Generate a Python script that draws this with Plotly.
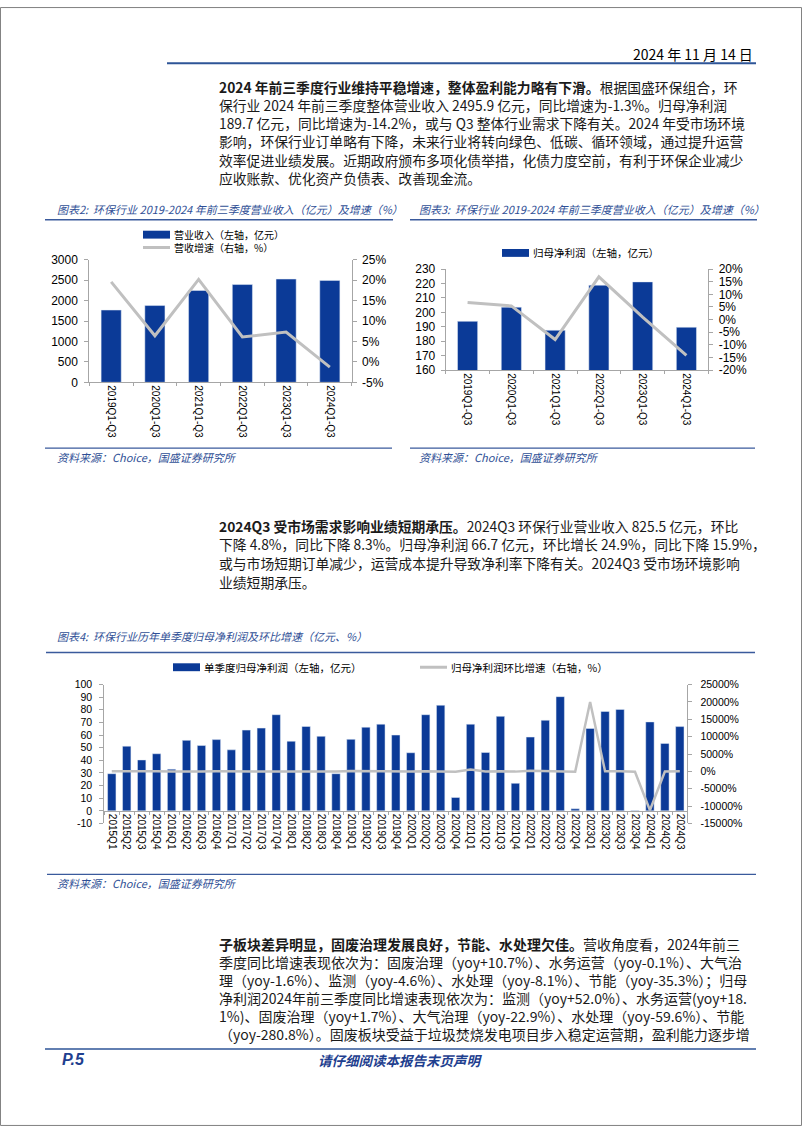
import plotly.graph_objects as go

W, H = 802, 1133
def px(x): return x / W
def py(y): return 1 - y / H

CJK = "Noto Sans CJK SC"
NUM = "Liberation Sans, Arial, sans-serif"
BAR_BLUE = "#0B3A97"
LINE_GRAY = "#C0C0C0"
TITLE_BLUE = "#2F4F96"
RULE_BLUE = "#3A5A9C"
AXIS_GRAY = "#A6A6A6"
TEXT = "#1A1A1A"

# ---------------- data ----------------
c2_cats = ["2019Q1-Q3", "2020Q1-Q3", "2021Q1-Q3", "2022Q1-Q3", "2023Q1-Q3", "2024Q1-Q3"]
c2_revenue = [1770, 1880, 2250, 2395, 2529, 2495.9]          # 亿元
c2_growth = [19.6, 6.4, 20.2, 6.1, 7.3, -1.3]                 # %
c2_left_ticks = [0, 500, 1000, 1500, 2000, 2500, 3000]
c2_right_ticks = [-5, 0, 5, 10, 15, 20, 25]

c3_cats = ["2019Q1-Q3", "2020Q1-Q3", "2021Q1-Q3", "2022Q1-Q3", "2023Q1-Q3", "2024Q1-Q3"]
c3_profit = [193.8, 203.6, 187.6, 218.8, 221.1, 189.7]        # 亿元
c3_growth = [6.8, 5.4, -7.9, 16.9, 1.0, -14.2]                # %
c3_left_ticks = [160, 170, 180, 190, 200, 210, 220, 230]
c3_right_ticks = [-20, -15, -10, -5, 0, 5, 10, 15, 20]

c4_cats = ["2015Q1", "2015Q2", "2015Q3", "2015Q4", "2016Q1", "2016Q2", "2016Q3", "2016Q4",
           "2017Q1", "2017Q2", "2017Q3", "2017Q4", "2018Q1", "2018Q2", "2018Q3", "2018Q4",
           "2019Q1", "2019Q2", "2019Q3", "2019Q4", "2020Q1", "2020Q2", "2020Q3", "2020Q4",
           "2021Q1", "2021Q2", "2021Q3", "2021Q4", "2022Q1", "2022Q2", "2022Q3", "2022Q4",
           "2023Q1", "2023Q2", "2023Q3", "2023Q4", "2024Q1", "2024Q2", "2024Q3"]
c4_profit = [29.4, 51.2, 40.3, 45.2, 33.0, 55.8, 51.7, 56.4,
             48.3, 63.9, 65.5, 76.1, 55.1, 66.8, 59.0, 29.4,
             56.6, 66.2, 68.6, 60.0, 46.0, 76.1, 83.6, 10.6,
             68.6, 46.2, 74.8, 21.8, 58.4, 71.7, 90.4, 1.6,
             65.2, 78.7, 80.3, -1.0, 70.4, 53.4, 66.7]          # 亿元
c4_qoq = [5, 74, -21, 12, -27, 69, -7, 9,
          -14, 32, 3, 16, -28, 21, -12, -50,
          93, 17, 4, -13, -23, 65, 10, -87,
          547, -33, 62, -71, 168, 23, 26, -98,
          20000, 21, 2, -101, -11200, -24, 25]                  # %
c4_left_ticks = [-10, 0, 10, 20, 30, 40, 50, 60, 70, 80, 90, 100]
c4_right_ticks = [-15000, -10000, -5000, 0, 5000, 10000, 15000, 20000, 25000]

# ---------------- text ----------------
header_date = "2024 年 11 月 14 日"
para1 = [
    "<b>2024 年前三季度行业维持平稳增速，整体盈利能力略有下滑。</b>根据国盛环保组合，环",
    "保行业 2024 年前三季度整体营业收入 2495.9 亿元，同比增速为-1.3%。归母净利润",
    "189.7 亿元，同比增速为-14.2%，或与 Q3 整体行业需求下降有关。2024 年受市场环境",
    "影响，环保行业订单略有下降，未来行业将转向绿色、低碳、循环领域，通过提升运营",
    "效率促进业绩发展。近期政府颁布多项化债举措，化债力度空前，有利于环保企业减少",
    "应收账款、优化资产负债表、改善现金流。",
]
para2 = [
    "<b>2024Q3 受市场需求影响业绩短期承压。</b>2024Q3 环保行业营业收入 825.5 亿元，环比",
    "下降 4.8%，同比下降 8.3%。归母净利润 66.7 亿元，环比增长 24.9%，同比下降 15.9%，",
    "或与市场短期订单减少，运营成本提升导致净利率下降有关。2024Q3 受市场环境影响",
    "业绩短期承压。",
]
para3 = [
    "<b>子板块差异明显，固废治理发展良好，节能、水处理欠佳。</b>营收角度看，2024年前三",
    "季度同比增速表现依次为：固废治理（yoy+10.7%）、水务运营（yoy-0.1%）、大气治",
    "理（yoy-1.6%）、监测（yoy-4.6%）、水处理（yoy-8.1%）、节能（yoy-35.3%）；归母",
    "净利润2024年前三季度同比增速表现依次为：监测（yoy+52.0%）、水务运营(yoy+18.",
    "1%)、固废治理（yoy+1.7%）、大气治理（yoy-22.9%）、水处理（yoy-59.6%）、节能",
    "（yoy-280.8%）。固废板块受益于垃圾焚烧发电项目步入稳定运营期，盈利能力逐步增",
]
title2 = "图表2:  环保行业 2019-2024 年前三季度营业收入（亿元）及增速（%）"
title3 = "图表3:  环保行业 2019-2024 年前三季度营业收入（亿元）及增速（%）"
title4 = "图表4:  环保行业历年单季度归母净利润及环比增速（亿元、%）"
source = "资料来源：Choice，国盛证券研究所"
leg2_bar = "营业收入（左轴，亿元）"
leg2_line = "营收增速（右轴，%）"
leg3_bar = "归母净利润（左轴，亿元）"
leg4_bar = "单季度归母净利润（左轴，亿元）"
leg4_line = "归母净利润环比增速（右轴，%）"

fig = go.Figure()

# chart 2
fig.add_trace(go.Bar(x=c2_cats, y=c2_revenue, marker_color=BAR_BLUE, width=0.46,
                     xaxis="x", yaxis="y", showlegend=False))
fig.add_trace(go.Scatter(x=c2_cats, y=c2_growth, mode="lines",
                         line=dict(color=LINE_GRAY, width=3), xaxis="x", yaxis="y2", showlegend=False))
# chart 3
fig.add_trace(go.Bar(x=c3_cats, y=c3_profit, marker_color=BAR_BLUE, width=0.46,
                     xaxis="x2", yaxis="y3", showlegend=False))
fig.add_trace(go.Scatter(x=c3_cats, y=c3_growth, mode="lines",
                         line=dict(color=LINE_GRAY, width=3), xaxis="x2", yaxis="y4", showlegend=False))
# chart 4
fig.add_trace(go.Bar(x=c4_cats, y=c4_profit, marker_color=BAR_BLUE, width=0.56,
                     xaxis="x3", yaxis="y5", showlegend=False))
fig.add_trace(go.Scatter(x=c4_cats, y=c4_qoq, mode="lines",
                         line=dict(color=LINE_GRAY, width=2.5), xaxis="x3", yaxis="y6", showlegend=False))

tickfont = dict(family=NUM, size=12, color="#000000")
tickfont4 = dict(family=NUM, size=10.5, color="#000000")
xfont = dict(family=NUM, size=10, color="#000000")

def yax(domain, rng, ticks, font, anchor, side="left", overlay=None, suffix=""):
    d = dict(range=rng, tickvals=ticks, ticktext=[f"{t}{suffix}" for t in ticks],
             showgrid=False, zeroline=False, showline=True, linecolor=AXIS_GRAY, linewidth=1,
             ticks="outside", ticklen=4, tickcolor=AXIS_GRAY, tickfont=font,
             anchor=anchor, side=side, fixedrange=True, ticklabelstandoff=3)
    if overlay:
        d["overlaying"] = overlay
    else:
        d["domain"] = domain
    return d

def xax(domain, anchor, font, position=None):
    d = dict(domain=domain, type="category", showgrid=False, zeroline=False, showline=True,
             linecolor=AXIS_GRAY, linewidth=1, tickangle=90, tickfont=font,
             ticks="outside", ticklen=3, tickcolor=AXIS_GRAY, tickson="boundaries",
             fixedrange=True, anchor=anchor)
    if position is not None:
        d["position"] = position
    return d

c2_ydom = [py(380), py(256)]
c3_ydom = [py(367.7), py(265.3)]
c4_ydom = [py(826.7), py(686)]
c4_range = [-10, 100]
c4_xpos = c4_ydom[0] + (0 - c4_range[0]) / (c4_range[1] - c4_range[0]) * (c4_ydom[1] - c4_ydom[0])

layout = dict(
    width=W, height=H, autosize=False,
    margin=dict(l=0, r=0, t=0, b=0),
    paper_bgcolor="white", plot_bgcolor="white",
    xaxis=xax([px(89.3), px(351.7)], "y", xfont),
    yaxis=yax(c2_ydom, [0, 3000], c2_left_ticks, tickfont, "x"),
    yaxis2=yax(None, [-5, 25], c2_right_ticks, tickfont, "x", side="right", overlay="y", suffix="%"),
    xaxis2=xax([px(445.7), px(708.3)], "y3", xfont),
    yaxis3=yax(c3_ydom, [160, 230], c3_left_ticks, tickfont, "x2"),
    yaxis4=yax(None, [-20, 20], c3_right_ticks, tickfont, "x2", side="right", overlay="y3", suffix="%"),
    xaxis3=xax([px(104.3), px(687.3)], "free", xfont, position=c4_xpos),
    yaxis5=yax(c4_ydom, c4_range, c4_left_ticks, tickfont4, "x3"),
    yaxis6=yax(None, [-15000, 25000], c4_right_ticks, tickfont4, "x3", side="right", overlay="y5", suffix="%"),
    showlegend=False,
)
layout["yaxis"]["ticklabelstandoff"] = 4
layout["yaxis5"]["ticklabelstandoff"] = 5
layout["yaxis6"]["ticklabelstandoff"] = 6
fig.update_layout(**layout)

shapes = []
annos = []

def hline(y, x0, x1, color=RULE_BLUE, width=1.5):
    shapes.append(dict(type="line", xref="paper", yref="paper", x0=px(x0), x1=px(x1),
                       y0=py(y), y1=py(y), line=dict(color=color, width=width)))

def text(s, x, y, size, color=TEXT, xanchor="left", family=CJK, italic=False, bold=False):
    if bold:
        s = f"<b>{s}</b>"
    if italic:
        s = f"<i>{s}</i>"
    annos.append(dict(text=s, xref="paper", yref="paper", x=px(x), y=py(y),
                      xanchor=xanchor, yanchor="middle", showarrow=False, align="left",
                      font=dict(family=family, size=size, color=color)))

# page frame
shapes.append(dict(type="rect", xref="paper", yref="paper", x0=0.0006, y0=0.0005, x1=0.9994, y1=0.9995,
                   line=dict(color="#808080", width=1)))

# header
text(header_date, 755, 48, 14, color="#000000", xanchor="right")
hline(57, 167, 756, color="#2E5597", width=2)

# paragraphs
for i, s in enumerate(para1):
    text(s, 217, 80.5 + i * 18.5, 13.8)
for i, s in enumerate(para2):
    text(s, 217, 525 + i * 18.9, 13.8)
for i, s in enumerate(para3):
    text(s, 217, 948.3 + i * 18.35, 14)

# chart titles and rules
text(title2, 55, 205, 11, color=TITLE_BLUE, italic=True)
hline(215.5, 45, 393)
text(title3, 417, 205, 11, color=TITLE_BLUE, italic=True)
hline(215.5, 410, 757)
text(title4, 55, 637, 11, color=TITLE_BLUE, italic=True)
hline(653.5, 46, 755)

# source lines
hline(446.7, 45, 392, width=1.2)
text(source, 55, 455.5, 11, color=TITLE_BLUE, italic=True)
hline(446.7, 410, 755, width=1.2)
text(source, 417, 455.5, 11, color=TITLE_BLUE, italic=True)
hline(878.3, 47, 756, width=1.2)
text(source, 55, 886.5, 11, color=TITLE_BLUE, italic=True)

# manual legends
def bar_swatch(x0, y):
    shapes.append(dict(type="rect", xref="paper", yref="paper", x0=px(x0), x1=px(x0 + 27),
                       y0=py(y + 4), y1=py(y - 4), fillcolor=BAR_BLUE, line=dict(width=0)))

def line_swatch(x0, y):
    shapes.append(dict(type="line", xref="paper", yref="paper", x0=px(x0), x1=px(x0 + 27),
                       y0=py(y), y1=py(y), line=dict(color=LINE_GRAY, width=3)))

# chart 2 legend (two stacked rows in one text block)
bar_swatch(143, 230.5)
line_swatch(143, 243.5)
text(leg2_bar + "<br>" + leg2_line, 172, 237, 10, color="#000000")
# chart 3 legend
bar_swatch(502, 249)
text(leg3_bar, 531, 249, 10.5, color="#000000")
# chart 4 legend
bar_swatch(173, 668.5)
text(leg4_bar, 202, 668.5, 10.5, color="#000000")
line_swatch(420, 668.5)
text(leg4_line, 449, 668.5, 10.5, color="#000000")

# footer
hline(1055, 45, 756, color="#2E5597", width=1.5)
text("P.5", 60, 1066, 16, color="#1F3F8F", italic=True, bold=True, family=NUM)
text("请仔细阅读本报告末页声明", 400, 1066, 13.5, color="#1F3F8F", xanchor="center", italic=True, bold=True)

fig.update_layout(shapes=shapes, annotations=annos)
fig.write_html(
    "out.html",
    config={"displayModeBar": False, "staticPlot": True},
    post_script="document.documentElement.style.margin='0';document.body.style.margin='0';"
                "document.body.style.padding='0';document.body.style.overflow='hidden';",
)
